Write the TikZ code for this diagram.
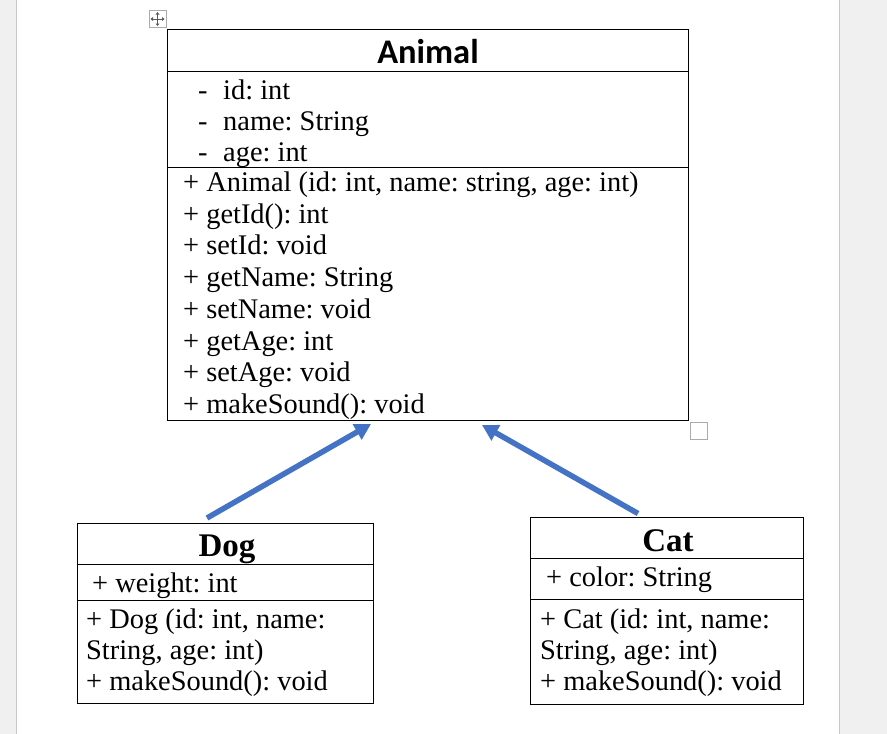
\documentclass[tikz,border=0pt]{standalone}
\usepackage{fontspec}
\setmainfont{Liberation Serif}
\newfontfamily\titlefont{Carlito}
\usetikzlibrary{arrows.meta}
\definecolor{arrowblue}{HTML}{4472C4}
\definecolor{pagegray}{HTML}{F0F0F0}
\definecolor{edgegray}{HTML}{C8C8C8}
\definecolor{handlegray}{HTML}{ABABAB}
\frenchspacing
\tikzset{
  classbox/.style={draw=black, line width=1pt, inner sep=0pt, anchor=north west},
  sepline/.style={draw=black, line width=1pt},
  member/.style={anchor=base west, inner sep=0pt, font=\fontsize{28.4}{31.7}\selectfont},
  boldtitle/.style={anchor=base, inner sep=0pt, font=\fontsize{33}{36}\selectfont\bfseries},
  inherit/.style={draw=arrowblue, line width=5.5pt, -{Triangle[length=16pt,width=17pt]}},
}
\begin{document}
\begin{tikzpicture}[x=1pt,y=-1pt]
\useasboundingbox (0,0) rectangle (887,734);
% page background
\fill[pagegray] (0,0) rectangle (16.5,734);
\fill[pagegray] (839.5,0) rectangle (887,734);
\draw[edgegray, line width=1pt] (16.5,0) -- (16.5,734);
\draw[edgegray, line width=1pt] (839.5,0) -- (839.5,734);

% move handle
\node[draw=handlegray, line width=1pt, minimum width=17pt, minimum height=17pt, inner sep=0pt, anchor=north west, fill=white] (movehandle) at (148.5,10) {};
\begin{scope}[shift={(movehandle.center)}, gray!70!black, line width=0.8pt]
  \draw (-6,0) -- (6,0);
  \draw (0,-6) -- (0,6);
  \fill (-7,0) -- (-4.5,-2) -- (-4.5,2) -- cycle;
  \fill (7,0) -- (4.5,-2) -- (4.5,2) -- cycle;
  \fill (0,-7) -- (-2,-4.5) -- (2,-4.5) -- cycle;
  \fill (0,7) -- (-2,4.5) -- (2,4.5) -- cycle;
\end{scope}

% resize handle
\node[draw=handlegray, line width=1.2pt, minimum width=17pt, minimum height=17pt, inner sep=0pt, anchor=north west] (resizehandle) at (690,422) {};

% ---------- Animal ----------
\node[classbox, minimum width=521pt, minimum height=391.5pt] (animal) at (167,28.5) {};
\draw[sepline] (167,71.5) -- (688,71.5);
\draw[sepline] (167,167.5) -- (688,167.5);
\node[anchor=base, inner sep=0pt, font=\fontsize{34.5}{38}\selectfont\titlefont\bfseries] (animaltitle) at (428,63) {Animal};
\node[member] (a1d) at (198,99) {-};
\node[member] (a1) at (223,99) {id: int};
\node[member] (a2d) at (198,130) {-};
\node[member] (a2) at (223,130) {name: String};
\node[member] (a3d) at (198,161) {-};
\node[member] (a3) at (223,161) {age: int};
\node[member] (m1) at (183,191.5) {+ Animal (id: int, name: string, age: int)};
\node[member] (m2) at (183,223.2) {+ getId(): int};
\node[member] (m3) at (183,254.9) {+ setId: void};
\node[member] (m4) at (183,286.6) {+ getName: String};
\node[member] (m5) at (183,318.3) {+ setName: void};
\node[member] (m6) at (183,350) {+ getAge: int};
\node[member] (m7) at (183,381.7) {+ setAge: void};
\node[member] (m8) at (183,413.4) {+ makeSound(): void};

% ---------- Dog ----------
\node[classbox, minimum width=296pt, minimum height=180.5pt] (dog) at (77,522.5) {};
\draw[sepline] (77,564) -- (373,564);
\draw[sepline] (77,600) -- (373,600);
\node[boldtitle] (dogtitle) at (227,556) {Dog};
\node[member] (d1) at (92,592) {+ weight: int};
\node[member] (d2) at (86,628.5) {+ Dog (id: int, name:};
\node[member] (d3) at (86,659.5) {String, age: int)};
\node[member] (d4) at (86,690.5) {+ makeSound(): void};

% ---------- Cat ----------
\node[classbox, minimum width=273pt, minimum height=187.5pt] (cat) at (530,516.5) {};
\draw[sepline] (530,558.5) -- (803,558.5);
\draw[sepline] (530,599) -- (803,599);
\node[boldtitle] (cattitle) at (668,551) {Cat};
\node[member] (c1) at (546,586) {+ color: String};
\node[member] (c2) at (540,628.5) {+ Cat (id: int, name:};
\node[member] (c3) at (540,659.5) {String, age: int)};
\node[member] (c4) at (540,690.5) {+ makeSound(): void};

% ---------- inheritance arrows ----------
\coordinate (dogtail) at (207,518);
\coordinate (dogtip) at (371,424);
\coordinate (cattail) at (638,513.5);
\coordinate (cattip) at (482,425);
\draw[inherit] (dogtail) -- (dogtip);
\draw[inherit] (cattail) -- (cattip);
\end{tikzpicture}
\end{document}
